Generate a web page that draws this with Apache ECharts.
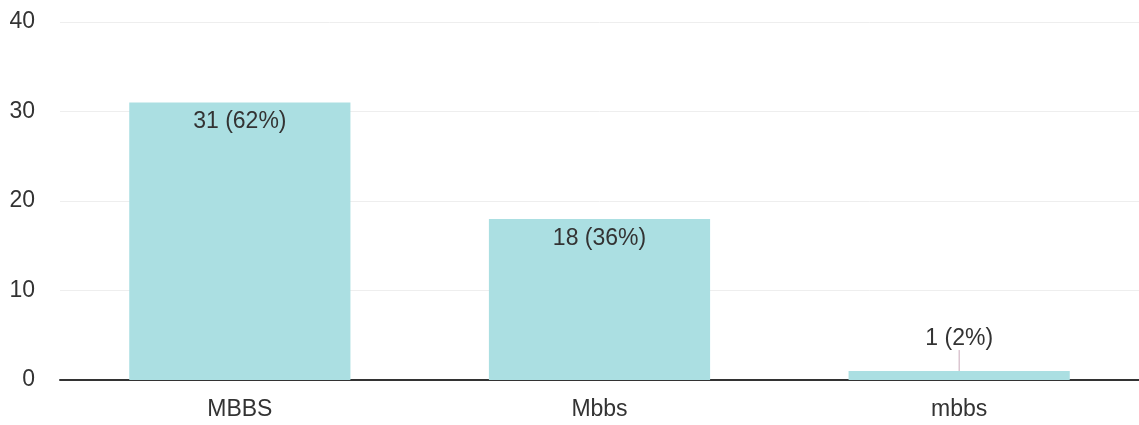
<!DOCTYPE html>
<html><head><meta charset="utf-8">
<script src="https://cdn.jsdelivr.net/npm/echarts@6/dist/echarts.min.js"></script>
<style>html,body{margin:0;padding:0;background:#fff}#c{width:1139px;height:425px}</style>
</head><body><div id="c"></div>
<script>
const categories = ['MBBS', 'Mbbs', 'mbbs'];
const counts = [31, 18, 1];
const percents = [62, 36, 2];
const yTicks = [0, 10, 20, 30, 40];

const chart = echarts.init(document.getElementById('c'));
chart.setOption({
  animation: false,
  grid: { left: 60, right: -9, top: 22, bottom: 45 },
  xAxis: {
    type: 'category', data: categories,
    axisLine: { lineStyle: { color: '#333', width: 2 } },
    axisTick: { show: false },
    axisLabel: { color: '#333', fontSize: 23, margin: 18, fontFamily: 'Liberation Sans' }
  },
  yAxis: {
    type: 'value', min: yTicks[0], max: yTicks[yTicks.length - 1], interval: 10,
    axisLine: { show: false }, axisTick: { show: false },
    axisLabel: { color: '#333', fontSize: 23, margin: 25, fontFamily: 'Liberation Sans' },
    splitLine: { lineStyle: { color: '#eeeeee', width: 1 } }
  },
  series: [{
    type: 'bar', barWidth: '61.5%',
    data: counts.map((v, i) => ({
      value: v,
      label: v < 3 ? { position: 'top', distance: 4 } : { position: 'insideTop', distance: 8 }
    })),
    itemStyle: { color: '#abdfe2' },
    label: {
      show: true, color: '#333', fontSize: 23, fontFamily: 'Liberation Sans',
      formatter: p => counts[p.dataIndex] + ' (' + percents[p.dataIndex] + '%)'
    },
    labelLayout: p => p.dataIndex === 2 ? { dy: -17 } : {},
    labelLine: { show: true, lineStyle: { color: '#c9a9b9', width: 1 }, length2: 0 }
  }]
});
</script></body></html>
